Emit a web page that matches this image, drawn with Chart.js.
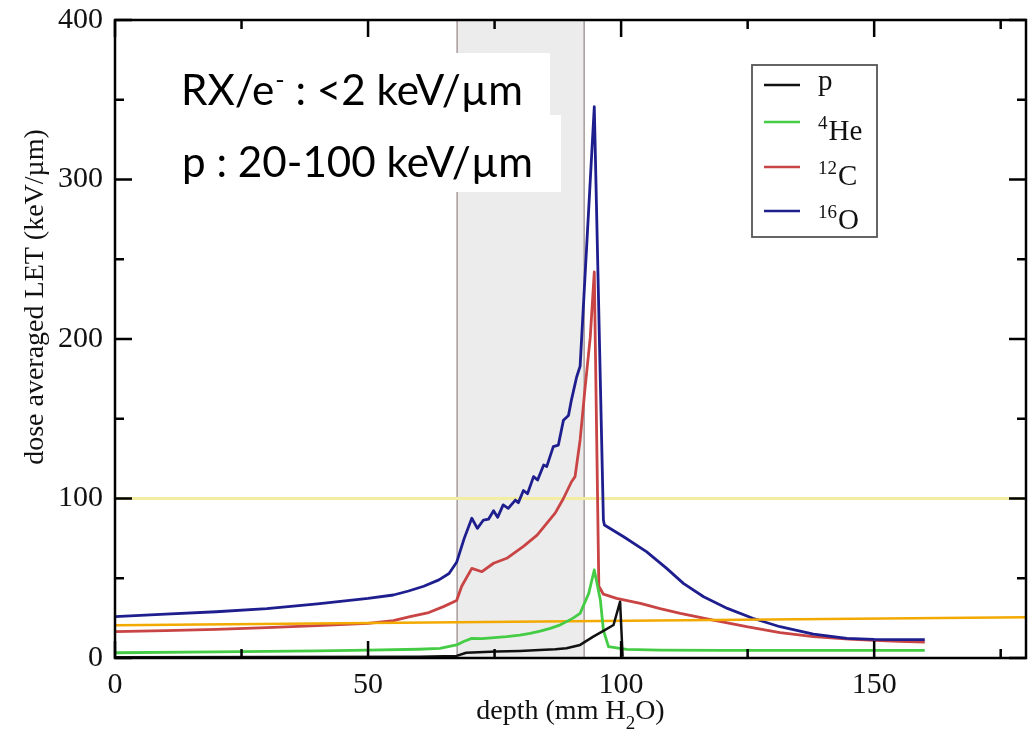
<!DOCTYPE html>
<html><head><meta charset="utf-8">
<script src="https://cdn.jsdelivr.net/npm/chart.js@4.4.1/dist/chart.umd.min.js"></script>
<style>html,body{margin:0;padding:0;background:#fff;overflow:hidden}#wrap{width:1029px;height:737px;position:relative}</style>
</head><body><div id="wrap"><canvas id="c" width="1029" height="737"></canvas></div>
<script>
// ---- data ----
const depthO = [0, 10, 20, 30, 40, 50, 55, 58, 61, 64, 66, 67.5, 69, 70.5, 71.6, 72.8, 73.8, 74.8, 75.6, 76.7, 77.7, 79.1, 79.7, 80.7, 81.5, 82.7, 83.5, 84.7, 85.3, 86.6, 87.6, 88.6, 89.6, 90.2, 91.2, 91.9, 94.7, 96.5, 96.7, 100.5, 105, 109, 112.3, 116.3, 121, 126, 131.4, 138, 144.6, 150, 155, 160];
const letO   = [26, 27.5, 29, 31, 34, 37.4, 39.5, 42, 45, 49, 53, 60, 75, 87.6, 81.3, 86.5, 87, 92.3, 88.2, 96, 93.8, 99, 97.4, 105, 103, 113.7, 111.6, 121, 120, 132.5, 133.5, 149, 152, 162, 176, 183, 345.6, 86.5, 83.4, 76, 66.7, 56.2, 46.8, 38.4, 31.1, 24.9, 19.6, 15, 12.3, 11.7, 11.5, 11.5];
const depthC = [0, 10, 20, 30, 40, 50, 55, 58.3, 62, 64.9, 67.5, 68.5, 70.5, 72.5, 74.8, 77.4, 80.7, 83.4, 85.3, 87, 88.6, 90.2, 90.9, 91.9, 92.9, 93.9, 94.7, 95.6, 96.5, 99.1, 103.8, 107.7, 111.7, 118.2, 124.8, 131.4, 138, 145, 150, 155, 160];
const letC   = [16.5, 17.2, 18, 19, 20.3, 21.7, 23.5, 25.9, 28.5, 32.2, 36, 45, 56.2, 54.1, 59.4, 62.5, 70, 77, 84.4, 91, 100, 110.5, 113.7, 136.7, 170, 201, 242, 45, 40, 37.4, 34.3, 31, 28, 23.8, 19.6, 15.9, 13.4, 11.8, 11, 10.5, 10];
const depthHe = [0, 20, 40, 50, 60, 64.2, 67.5, 69, 70.5, 72.5, 75, 77.4, 80, 82, 84, 86, 88, 89.2, 90.5, 91.9, 93.6, 94.7, 95.9, 96.5, 97.5, 101.1, 107.7, 120, 140, 160];
const letHe   = [3.3, 3.8, 4.5, 5, 5.5, 6, 8.2, 10.5, 12.3, 12.1, 12.8, 13.4, 14.4, 15.5, 16.8, 18.6, 20.8, 22.8, 25, 28, 40.5, 55.2, 36.4, 17.5, 7.1, 5.4, 5, 4.8, 4.8, 4.8];
const depthP = [0, 30, 60, 67.5, 69.4, 75.4, 80, 83.9, 87, 89.2, 91.9, 94.5, 96.5, 98.5, 99.8, 100.3];
const letP   = [0.5, 0.6, 0.8, 1.3, 3.3, 4, 4.4, 5, 5.5, 6.1, 8.2, 13.4, 17, 20.7, 35.3, 0.8];
const refDepth  = [0, 180];
const refYellow = [100, 100];
const refOrange = [20.5, 25.5];
const bandRange = [67.6, 92.7];
const xMajor = [0, 50, 100, 150];
const xMinor = [25, 75, 125, 175];
const yMajor = [0, 100, 200, 300, 400];
const yMinor = [50, 150, 250, 350];
const legendSup  = ['', '4', '12', '16'];
const legendMain = ['p', 'He', 'C', 'O'];
const seriesLabels = ['p', '4He', '12C', '16O'];
const xTitle = ['depth (mm H', '2', 'O)'];
const yTitle = 'dose averaged LET (keV/µm)';
const note1 = ['RX/e', '-', ' : <2 keV/µm'];
const note2 = 'p : 20-100 keV/µm';

const pts = (xs, ys) => xs.map((x, i) => ({x, y: ys[i]}));
const SERIF = '"Liberation Serif", "DejaVu Serif", serif';

const colors = {p: '#111111', '4He': '#45cc45', '12C': '#c94444', '16O': '#1e1e8e'};

const decor = {
  id: 'decor',
  beforeDatasetsDraw(chart) {
    const {ctx, chartArea: a, scales: {x}} = chart;
    const x0 = x.getPixelForValue(bandRange[0]), x1 = x.getPixelForValue(bandRange[1]);
    ctx.save();
    ctx.fillStyle = '#ececec';
    ctx.fillRect(x0, a.top, x1 - x0, a.bottom - a.top);
    ctx.strokeStyle = '#a89c9c';
    ctx.lineWidth = 1.5;
    ctx.beginPath();
    ctx.moveTo(x0, a.top); ctx.lineTo(x0, a.bottom);
    ctx.moveTo(x1, a.top); ctx.lineTo(x1, a.bottom);
    ctx.stroke();
    ctx.restore();
  },
  afterDatasetsDraw(chart) {
    const {ctx, chartArea: a, scales: {x, y}} = chart;
    ctx.save();
    // frame
    ctx.strokeStyle = '#000';
    ctx.lineWidth = 2.5;
    ctx.strokeRect(a.left, a.top, a.right - a.left, a.bottom - a.top);
    // ticks
    ctx.beginPath();
    const tx = (v, len) => { const p = x.getPixelForValue(v);
      ctx.moveTo(p, a.bottom); ctx.lineTo(p, a.bottom - len);
      ctx.moveTo(p, a.top); ctx.lineTo(p, a.top + len); };
    const ty = (v, len) => { const p = y.getPixelForValue(v);
      ctx.moveTo(a.left, p); ctx.lineTo(a.left + len, p);
      ctx.moveTo(a.right, p); ctx.lineTo(a.right - len, p); };
    xMajor.forEach(v => tx(v, 17)); xMinor.forEach(v => tx(v, 9));
    yMajor.forEach(v => ty(v, 17)); yMinor.forEach(v => ty(v, 9));
    ctx.stroke();

    // legend box
    ctx.fillStyle = '#fff';
    ctx.fillRect(752, 65, 125, 172);
    ctx.strokeStyle = '#555';
    ctx.lineWidth = 1.8;
    ctx.strokeRect(752, 65, 125, 172);
    const lineYs = [85, 122, 167, 211];
    seriesLabels.forEach((lab, i) => {
      const ds = chart.data.datasets.find(d => d.label === lab);
      const ly = lineYs[i];
      ctx.strokeStyle = ds.borderColor;
      ctx.lineWidth = 2.5;
      ctx.beginPath(); ctx.moveTo(764, ly); ctx.lineTo(800, ly); ctx.stroke();
      ctx.fillStyle = '#111';
      ctx.textAlign = 'left';
      ctx.textBaseline = 'alphabetic';
      if (legendSup[i]) {
        ctx.font = '19px ' + SERIF;
        ctx.fillText(legendSup[i], 818, ly + 7);
        const sw = ctx.measureText(legendSup[i]).width;
        ctx.font = '29px ' + SERIF;
        ctx.fillText(legendMain[i], 818 + sw + 1, ly + 18);
      } else {
        ctx.font = '29px ' + SERIF;
        ctx.fillText(legendMain[i], 818, ly + 5);
      }
    });

    // note box
    ctx.fillStyle = '#fff';
    ctx.fillRect(160, 53, 390, 62);
    ctx.fillRect(160, 115, 401, 77);
    ctx.font = '100px Lato';
    const fs = 100 * 351 / ctx.measureText(note2).width;
    ctx.fillStyle = '#000';
    ctx.font = fs + 'px Lato';
    ctx.fillText(note2, 182, 177);
    let cx = 181;
    ctx.fillText(note1[0], cx, 105); cx += ctx.measureText(note1[0]).width;
    ctx.font = (fs * 0.6) + 'px Lato';
    ctx.fillText(note1[1], cx + 1, 105 - fs * 0.38); cx += ctx.measureText(note1[1]).width + 1;
    ctx.font = fs + 'px Lato';
    ctx.fillText(note1[2], cx, 105);

    // axis titles
    ctx.fillStyle = '#111';
    ctx.font = '28px ' + SERIF;
    ctx.textBaseline = 'alphabetic';
    const w0 = ctx.measureText(xTitle[0]).width;
    ctx.font = '19px ' + SERIF;
    const w1 = ctx.measureText(xTitle[1]).width;
    ctx.font = '28px ' + SERIF;
    const w2 = ctx.measureText(xTitle[2]).width;
    let sx = (a.left + a.right) / 2 - (w0 + w1 + w2) / 2;
    ctx.fillText(xTitle[0], sx, 719);
    ctx.font = '19px ' + SERIF;
    ctx.fillText(xTitle[1], sx + w0, 729);
    ctx.font = '28px ' + SERIF;
    ctx.fillText(xTitle[2], sx + w0 + w1, 719);

    ctx.translate(36, 297);
    ctx.rotate(-Math.PI / 2);
    ctx.textAlign = 'center';
    ctx.textBaseline = 'middle';
    ctx.font = '28px ' + SERIF;
    ctx.fillText(yTitle, 0, 0);
    ctx.restore();
  }
};

const line = (label, xs, ys, color, width) => ({
  label, data: pts(xs, ys), borderColor: color, backgroundColor: color,
  borderWidth: width, pointRadius: 0, tension: 0, fill: false, borderJoinStyle: 'round'
});

new Chart(document.getElementById('c'), {
  type: 'line',
  data: {
    datasets: [
      line('p', depthP, letP, colors.p, 2.5),
      line('4He', depthHe, letHe, colors['4He'], 2.8),
      line('orange', refDepth, refOrange, '#f2a900', 2.5),
      line('16O', depthO, letO, colors['16O'], 2.8),
      line('12C', depthC, letC, colors['12C'], 2.8),
      line('yellow', refDepth, refYellow, '#f2eda0', 2.8)
    ]
  },
  options: {
    responsive: false,
    animation: false,
    layout: {padding: {top: 20, right: 3, left: 0, bottom: 0}},
    plugins: {legend: {display: false}, tooltip: {enabled: false}},
    scales: {
      x: {
        type: 'linear', min: 0, max: 180,
        grid: {display: false, drawTicks: false}, border: {display: false},
        afterBuildTicks: s => { s.ticks = xMajor.map(v => ({value: v})); },
        afterFit: s => { s.height = 79; s.paddingLeft = 0; s.paddingRight = 0; },
        ticks: {padding: 9, color: '#111', font: {family: SERIF, size: 30}, maxRotation: 0, autoSkip: false}
      },
      y: {
        type: 'linear', min: 0, max: 400,
        grid: {display: false, drawTicks: false}, border: {display: false},
        afterBuildTicks: s => { s.ticks = yMajor.map(v => ({value: v})); },
        afterFit: s => { s.width = 115; s.paddingTop = 0; s.paddingBottom = 0; },
        ticks: {padding: 12, color: '#111', font: {family: SERIF, size: 30}}
      }
    }
  },
  plugins: [decor]
});
</script>
</body></html>
